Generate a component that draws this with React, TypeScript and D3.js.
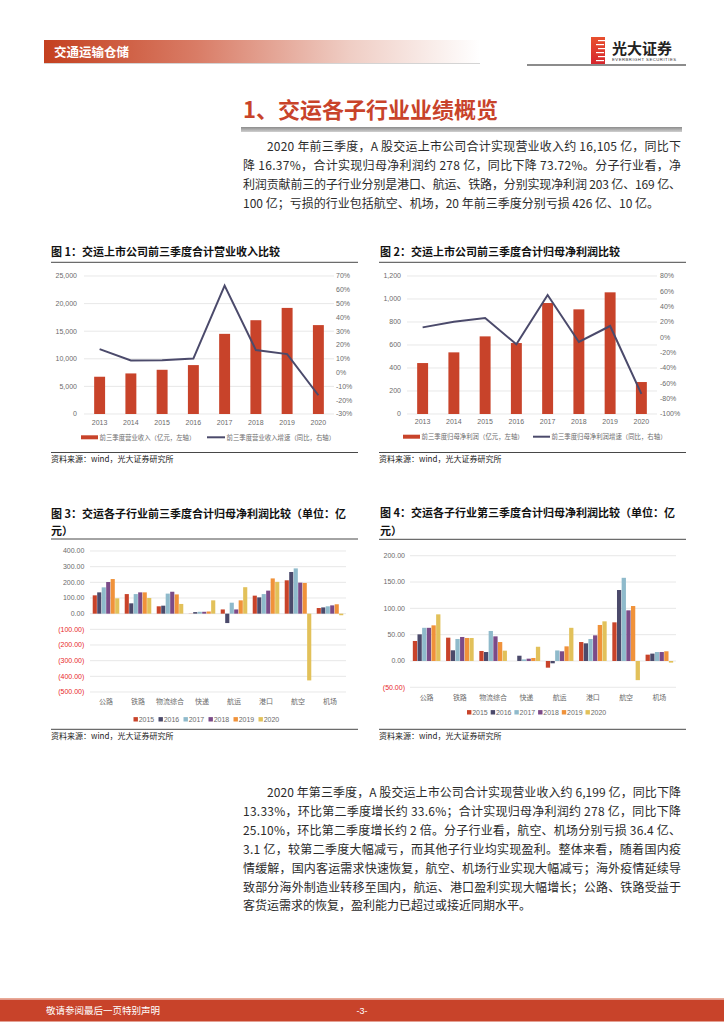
import React from 'react';
import * as d3 from 'd3';

const FONT = '"Noto Sans CJK SC","Noto Sans",sans-serif';
const NUMFONT = '"Liberation Sans","Noto Sans CJK SC",sans-serif';

// ---------- Data ----------
const years = ['2013', '2014', '2015', '2016', '2017', '2018', '2019', '2020'];
const revenue = [6750, 7350, 8010, 8860, 14520, 16990, 19220, 16105];
const revenueGrowth = [17.0, 8.8, 9.0, 10.2, 63.0, 16.3, 13.4, -16.4];
const profit = [443, 536, 675, 617, 965, 910, 1058, 278];
const profitGrowth = [13.0, 20.4, 25.2, -9.1, 55.2, -6.0, 14.8, -73.7];

const sectors = ['公路', '铁路', '物流综合', '快递', '航运', '港口', '航空', '机场'];
const seriesYears = ['2015', '2016', '2017', '2018', '2019', '2020'];
const seriesColors = ['#c8432a', '#4b4a6b', '#8fbacb', '#7b4b88', '#f0923a', '#e2c15a'];

const ytd2015 = [117, 125, 47, 1, 27, 115, 213, 36];
const ytd2016 = [136, 66, 51, 10, -60, 104, 266, 40];
const ytd2017 = [168, 125, 128, 12, 70, 125, 289, 47];
const ytd2018 = [202, 136, 140, 12, 27, 147, 198, 53];
const ytd2019 = [221, 136, 123, 14, 85, 225, 196, 60];
const ytd2020 = [98, 100, 62, 85, 169, 203, -426, -10];

const q3_2015 = [38, 44.3, 19, 0, -12.7, 36, 73.4, 12];
const q3_2016 = [50.6, 20.3, 17, 10, -4.4, 33.5, 134.8, 14];
const q3_2017 = [63, 41.8, 57, 3, 20, 41.8, 158, 17];
const q3_2018 = [63, 45.6, 46.8, 4.4, 18.4, 48.7, 96.2, 17];
const q3_2019 = [67.7, 43.7, 36, 5.7, 27.8, 68.4, 104.4, 18.4];
const q3_2020 = [88.6, 43.7, 19.6, 27, 63, 75.3, -36.4, -3.1];

const ytdSeries = [ytd2015, ytd2016, ytd2017, ytd2018, ytd2019, ytd2020];
const q3Series = [q3_2015, q3_2016, q3_2017, q3_2018, q3_2019, q3_2020];

const para1 = [
  '2020 年前三季度，A 股交运上市公司合计实现营业收入约 16,105 亿，同比下',
  '降 16.37%，合计实现归母净利润约 278 亿，同比下降 73.72%。分子行业看，净',
  '利润贡献前三的子行业分别是港口、航运、铁路，分别实现净利润 203 亿、169 亿、',
  '100 亿；亏损的行业包括航空、机场，20 年前三季度分别亏损 426 亿、10 亿。',
];
const para2 = [
  '2020 年第三季度，A 股交运上市公司合计实现营业收入约 6,199 亿，同比下降',
  '13.33%，环比第二季度增长约 33.6%；合计实现归母净利润约 278 亿，同比下降',
  '25.10%，环比第二季度增长约 2 倍。分子行业看，航空、机场分别亏损 36.4 亿、',
  '3.1 亿，较第二季度大幅减亏，而其他子行业均实现盈利。整体来看，随着国内疫',
  '情缓解，国内客运需求快速恢复，航空、机场行业实现大幅减亏；海外疫情延续导',
  '致部分海外制造业转移至国内，航运、港口盈利实现大幅增长；公路、铁路受益于',
  '客货运需求的恢复，盈利能力已超过或接近同期水平。',
];

const BAR = '#c8432a';
const LINE = '#4b4a6b';
const GRID = '#dedede';
const AXT = '#6b6b6b';

type DualProps = {
  x0: number; x1: number; yTop: number; yBot: number;
  leftDomain: [number, number]; leftStep: number;
  rightDomain: [number, number]; rightStep: number;
  bars: number[]; line: number[];
  leftLabelX: number; rightLabelX: number; xLabelY: number;
  legendY: number; legRect: [number, number]; legLine: [number, number];
  barLabel: string; lineLabel: string;
};

function DualChart(p: DualProps) {
  const x = d3.scaleBand<string>().domain(years).range([p.x0, p.x1]).paddingInner(0.65).paddingOuter(0.325);
  const yl = d3.scaleLinear().domain(p.leftDomain).range([p.yBot, p.yTop]);
  const yr = d3.scaleLinear().domain(p.rightDomain).range([p.yBot, p.yTop]);
  const lt = d3.range(p.leftDomain[0], p.leftDomain[1] + 1e-6, p.leftStep);
  const rt = d3.range(p.rightDomain[0], p.rightDomain[1] + 1e-6, p.rightStep);
  const fmt = d3.format(',');
  const lineGen = d3.line<number>()
    .x((_, i) => (x(years[i]) as number) + x.bandwidth() / 2)
    .y((d) => yr(d));
  return (
    <g>
      {lt.map((t) => (
        <line key={'g' + t} x1={p.x0} x2={p.x1} y1={yl(t)} y2={yl(t)} stroke={GRID} strokeWidth={0.7} />
      ))}
      {lt.map((t) => (
        <text key={'l' + t} x={p.leftLabelX} y={yl(t)} dy="0.35em" textAnchor="end" fontSize={7} fill={AXT} fontFamily={NUMFONT}>{fmt(t)}</text>
      ))}
      {rt.map((t) => (
        <text key={'r' + t} x={p.rightLabelX} y={yr(t)} dy="0.35em" fontSize={7} fill={AXT} fontFamily={NUMFONT}>{t + '%'}</text>
      ))}
      {p.bars.map((v, i) => (
        <rect key={'b' + i} x={x(years[i])} y={yl(v)} width={x.bandwidth()} height={yl(0) - yl(v)} fill={BAR} />
      ))}
      <path d={lineGen(p.line) || ''} fill="none" stroke={LINE} strokeWidth={2} />
      {years.map((yv) => (
        <text key={'x' + yv} x={(x(yv) as number) + x.bandwidth() / 2} y={p.xLabelY} dy="0.35em" textAnchor="middle" fontSize={7} fill={AXT} fontFamily={NUMFONT}>{yv}</text>
      ))}
      <rect x={p.legRect[0]} y={p.legendY - 2} width={p.legRect[1] - p.legRect[0]} height={4} fill={BAR} />
      <text x={p.legRect[1] + 1.5} y={p.legendY} dy="0.35em" fontSize={6.4} fill={AXT} fontFamily={FONT}>{p.barLabel}</text>
      <line x1={p.legLine[0]} x2={p.legLine[1]} y1={p.legendY} y2={p.legendY} stroke={LINE} strokeWidth={2} />
      <text x={p.legLine[1] + 1.5} y={p.legendY} dy="0.35em" fontSize={6.4} fill={AXT} fontFamily={FONT}>{p.lineLabel}</text>
    </g>
  );
}

type GroupProps = {
  x0: number; x1: number; yTop: number; yBot: number;
  domain: [number, number]; step: number; series: number[][];
  labelX: number; catY: number; legendY: number; legendX: number; legendStep: number;
};

function GroupChart(p: GroupProps) {
  const x = d3.scaleBand<string>().domain(sectors).range([p.x0, p.x1]).paddingInner(0.17).paddingOuter(0.085);
  const xi = d3.scaleBand<string>().domain(seriesYears).range([0, x.bandwidth()]).paddingInner(0.08);
  const y = d3.scaleLinear().domain(p.domain).range([p.yBot, p.yTop]);
  const ticks = d3.range(p.domain[0], p.domain[1] + 1e-6, p.step);
  const f2 = d3.format(',.2f');
  const lab = (t: number) => (t < 0 ? '(' + f2(-t) + ')' : f2(t));
  return (
    <g>
      {ticks.map((t) => (
        <line key={'g' + t} x1={p.x0} x2={p.x1} y1={y(t)} y2={y(t)} stroke={GRID} strokeWidth={0.7} />
      ))}
      {ticks.map((t) => (
        <text key={'l' + t} x={p.labelX} y={y(t)} dy="0.35em" textAnchor="end" fontSize={7} fill={t < 0 ? '#e8282b' : AXT} fontFamily={NUMFONT}>{lab(t)}</text>
      ))}
      {p.series.map((arr, si) =>
        arr.map((v, ci) => (
          <rect key={si + '-' + ci}
            x={(x(sectors[ci]) as number) + (xi(seriesYears[si]) as number)}
            y={Math.min(y(v), y(0))}
            width={xi.bandwidth()}
            height={Math.abs(y(v) - y(0))}
            fill={seriesColors[si]} />
        ))
      )}
      {sectors.map((s) => (
        <text key={'c' + s} x={(x(s) as number) + x.bandwidth() / 2} y={p.catY} dy="0.35em" textAnchor="middle" fontSize={7} fill={AXT} fontFamily={FONT}>{s}</text>
      ))}
      {seriesYears.map((s, i) => (
        <g key={'lg' + s}>
          <rect x={p.legendX + i * p.legendStep} y={p.legendY - 2.2} width={4.4} height={4.4} fill={seriesColors[i]} />
          <text x={p.legendX + i * p.legendStep + 5.2} y={p.legendY} dy="0.35em" fontSize={7} fill={AXT} fontFamily={NUMFONT}>{s}</text>
        </g>
      ))}
    </g>
  );
}

function Paragraph({ lines, y0, step }: { lines: string[]; y0: number; step: number }) {
  return (
    <g>
      {lines.map((l, i) => {
        const first = i === 0;
        const last = i === lines.length - 1;
        const xs = first ? 267 : 243;
        return (
          <text key={i} x={xs} y={y0 + i * step} dy="0.36em" fontSize={12} fill="#2b2b2b" fontFamily={FONT}
            {...(!last ? { textLength: 681 - xs, lengthAdjust: 'spacing' } : {})}>{l}</text>
        );
      })}
    </g>
  );
}

export default function App() {
  return (
    <svg width={724} height={1024} viewBox="0 0 724 1024" style={{ position: 'absolute', left: 0, top: 0, background: '#fff' }}>
      <defs>
        <linearGradient id="hdr" x1="0" x2="1" y1="0" y2="0">
          <stop offset="0" stopColor="#c4401f" />
          <stop offset="0.35" stopColor="#d97c66" />
          <stop offset="0.7" stopColor="#efcdc4" />
          <stop offset="1" stopColor="#ffffff" />
        </linearGradient>
        <linearGradient id="logo" x1="0" x2="0" y1="0" y2="1">
          <stop offset="0" stopColor="#e8502e" />
          <stop offset="1" stopColor="#d6262d" />
        </linearGradient>
        <linearGradient id="gbar" x1="0" x2="0" y1="0" y2="1">
          <stop offset="0" stopColor="#8c8c8c" />
          <stop offset="1" stopColor="#d0d0d0" />
        </linearGradient>
      </defs>
      <rect x={0} y={0} width={724} height={1024} fill="#fff" />

      {/* Header */}
      <rect x={44} y={40} width={436} height={23} fill="url(#hdr)" />
      <line x1={44} x2={480} y1={63.5} y2={63.5} stroke="#c9c9c9" strokeWidth={0.8} />
      <text x={54} y={52} dy="0.36em" fontSize={12.5} fontWeight="bold" fill="#fff" fontFamily={FONT}>交通运输仓储</text>
      <g>
        <rect x={591} y={37} width={14} height={27} fill="url(#logo)" />
        {[0, 1, 2, 3, 4, 5].map((i) => (
          <rect key={i} x={598 - (i % 2) * 2} y={40 + i * 4} width={8} height={1.2} fill="#fff" />
        ))}
      </g>
      <text x={612} y={49} dy="0.36em" fontSize={15} fontWeight="bold" fill="#222" fontFamily={FONT}>光大证券</text>
      <text x={612} y={59.5} dy="0.36em" fontSize={4.2} fill="#333" fontFamily={NUMFONT} textLength={64} lengthAdjust="spacing">EVERBRIGHT SECURITIES</text>
      <line x1={527} x2={686} y1={65} y2={65} stroke="#666" strokeWidth={1.4} />

      {/* Section title */}
      <text x={243} y={110} dy="0.36em" fontSize={22} fontWeight="bold" fill="#c8432a" fontFamily={FONT}>1、交运各子行业业绩概览</text>
      <rect x={241} y={127} width={441} height={5} fill="url(#gbar)" />

      <Paragraph lines={para1} y0={147} step={18.9} />

      {/* Chart 1 */}
      <text x={51} y={251.7} dy="0.36em" fontSize={11} fontWeight="bold" fill="#111" fontFamily={FONT}>图 1：交运上市公司前三季度合计营业收入比较</text>
      <line x1={51} x2={358} y1={262.3} y2={262.3} stroke="#333" strokeWidth={0.9} />
      <DualChart x0={84} x1={334} yTop={276} yBot={414}
        leftDomain={[0, 25000]} leftStep={5000} rightDomain={[-30, 70]} rightStep={10}
        bars={revenue} line={revenueGrowth} leftLabelX={77} rightLabelX={336} xLabelY={423}
        legendY={437.3} legRect={[81, 98]} legLine={[207, 225]}
        barLabel="前三季度营业收入（亿元，左轴）" lineLabel="前三季度营业收入增速（同比，右轴）" />
      <line x1={51} x2={358} y1={452.5} y2={452.5} stroke="#333" strokeWidth={0.9} />
      <text x={51} y={459} dy="0.36em" fontSize={8} fill="#222" fontFamily={FONT}>资料来源：wind，光大证券研究所</text>

      {/* Chart 2 */}
      <text x={380} y={251.7} dy="0.36em" fontSize={11} fontWeight="bold" fill="#111" fontFamily={FONT}>图 2：交运上市公司前三季度合计归母净利润比较</text>
      <line x1={379} x2={686} y1={262.3} y2={262.3} stroke="#333" strokeWidth={0.9} />
      <DualChart x0={407} x1={657} yTop={276} yBot={414}
        leftDomain={[0, 1200]} leftStep={200} rightDomain={[-100, 80]} rightStep={20}
        bars={profit} line={profitGrowth} leftLabelX={401} rightLabelX={660} xLabelY={422}
        legendY={436.7} legRect={[403, 420]} legLine={[533, 550]}
        barLabel="前三季度归母净利润（亿元，左轴）" lineLabel="前三季度归母净利润增速（同比，右轴）" />
      <line x1={379} x2={686} y1={452.5} y2={452.5} stroke="#333" strokeWidth={0.9} />
      <text x={379} y={459} dy="0.36em" fontSize={8} fill="#222" fontFamily={FONT}>资料来源：wind，光大证券研究所</text>

      {/* Chart 3 */}
      <text x={51} y={514} dy="0.36em" fontSize={11} fontWeight="bold" fill="#111" fontFamily={FONT}>图 3：交运各子行业前三季度合计归母净利润比较（单位：亿</text>
      <text x={51} y={530.7} dy="0.36em" fontSize={11} fontWeight="bold" fill="#111" fontFamily={FONT}>元）</text>
      <line x1={51} x2={358} y1={539} y2={539} stroke="#333" strokeWidth={0.9} />
      <GroupChart x0={90} x1={346} yTop={551} yBot={692} domain={[-500, 400]} step={100}
        series={ytdSeries} labelX={84.3} catY={701.7} legendY={719.3} legendX={133.5} legendStep={25} />
      <line x1={51} x2={358} y1={729.3} y2={729.3} stroke="#333" strokeWidth={0.9} />
      <text x={51} y={736} dy="0.36em" fontSize={8} fill="#222" fontFamily={FONT}>资料来源：wind，光大证券研究所</text>

      {/* Chart 4 */}
      <text x={380} y={513} dy="0.36em" fontSize={11} fontWeight="bold" fill="#111" fontFamily={FONT}>图 4：交运各子行业第三季度合计归母净利润比较（单位：亿</text>
      <text x={380} y={530.7} dy="0.36em" fontSize={11} fontWeight="bold" fill="#111" fontFamily={FONT}>元）</text>
      <line x1={379} x2={686} y1={539.3} y2={539.3} stroke="#333" strokeWidth={0.9} />
      <GroupChart x0={410} x1={676} yTop={555.7} yBot={687.3} domain={[-50, 200]} step={50}
        series={q3Series} labelX={405} catY={697.3} legendY={712.3} legendX={467} legendStep={23.7} />
      <line x1={379} x2={686} y1={729.3} y2={729.3} stroke="#333" strokeWidth={0.9} />
      <text x={379} y={736} dy="0.36em" fontSize={8} fill="#222" fontFamily={FONT}>资料来源：wind，光大证券研究所</text>

      <Paragraph lines={para2} y0={792.7} step={18.9} />

      {/* Footer */}
      <rect x={0} y={998} width={724} height={1.2} fill="#e9a996" />
      <rect x={0} y={999.5} width={724} height={22} fill="#c8432a" />
      <text x={46} y={1011} dy="0.36em" fontSize={9.5} fill="#fff" fontFamily={FONT}>敬请参阅最后一页特别声明</text>
      <text x={362} y={1011} dy="0.36em" fontSize={9} fill="#fff" textAnchor="middle" fontFamily={NUMFONT}>-3-</text>
    </svg>
  );
}
